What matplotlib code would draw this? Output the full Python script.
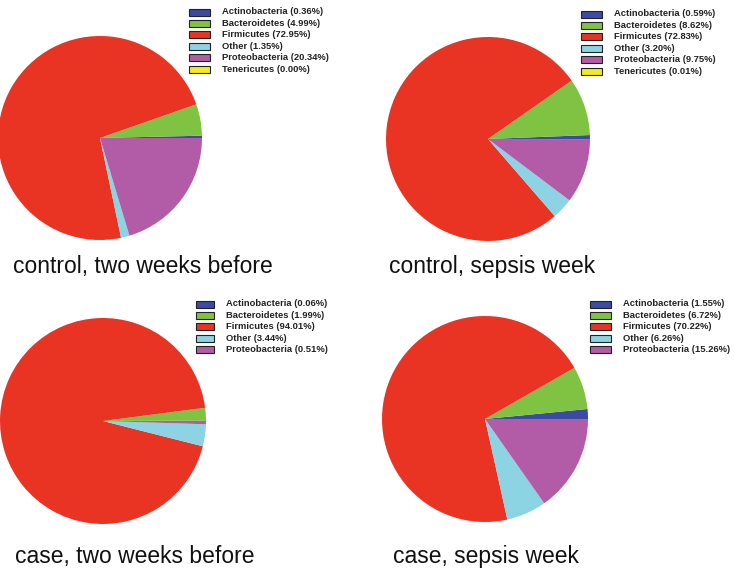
import matplotlib
matplotlib.use("Agg")
import matplotlib.pyplot as plt
from matplotlib.patches import Rectangle

W, H = 734, 581

# ---- data ----
phyla_6 = ["Actinobacteria", "Bacteroidetes", "Firmicutes", "Other", "Proteobacteria", "Tenericutes"]
phyla_5 = ["Actinobacteria", "Bacteroidetes", "Firmicutes", "Other", "Proteobacteria"]

control_two_weeks = [0.36, 4.99, 72.95, 1.35, 20.34, 0.00]
control_sepsis = [0.59, 8.62, 72.83, 3.20, 9.75, 0.01]
case_two_weeks = [0.06, 1.99, 94.01, 3.44, 0.51]
case_sepsis = [1.55, 6.72, 70.22, 6.26, 15.26]

titles = ["control, two weeks before", "control, sepsis week",
          "case, two weeks before", "case, sepsis week"]

colors = ["#3b4ba3", "#80c342", "#e93424", "#8cd4e4", "#b25ca8", "#f4ea1c"]

# ---- layout (pixels) ----
panels = [
    dict(vals=control_two_weeks, names=phyla_6, center=(100, 138), r=102,
         title_xy=(13, 266), leg_patch_x=189, leg_patch_w=21, leg_text_x=222, leg_y0=12),
    dict(vals=control_sepsis, names=phyla_6, center=(488, 139), r=102,
         title_xy=(389, 266), leg_patch_x=581, leg_patch_w=21, leg_text_x=614, leg_y0=14),
    dict(vals=case_two_weeks, names=phyla_5, center=(103, 421), r=103,
         title_xy=(15, 556), leg_patch_x=196, leg_patch_w=18, leg_text_x=226, leg_y0=304),
    dict(vals=case_sepsis, names=phyla_5, center=(485, 419), r=103,
         title_xy=(393, 557), leg_patch_x=590, leg_patch_w=21, leg_text_x=623, leg_y0=304),
]
row_step = 11.45

fig = plt.figure(figsize=(W / 100, H / 100), dpi=100)
ax = fig.add_axes([0, 0, 1, 1])

for p, title in zip(panels, titles):
    cx, cy = p["center"]
    ax.pie(p["vals"], colors=colors[:len(p["vals"])], startangle=0, counterclock=True,
           center=(cx, H - cy), radius=p["r"], frame=True,
           wedgeprops=dict(linewidth=0))
    ax.text(p["title_xy"][0], H - p["title_xy"][1], title, fontsize=16.5,
            family="Liberation Sans", color="#111111", ha="left", va="center")
    for i, (name, v) in enumerate(zip(p["names"], p["vals"])):
        y = H - (p["leg_y0"] + i * row_step)
        ax.add_patch(Rectangle((p["leg_patch_x"], y - 3.5), p["leg_patch_w"], 7,
                               facecolor=colors[i], edgecolor="#222222", linewidth=0.8))
        ax.text(p["leg_text_x"], y, f"{name} ({v:.2f}%)", fontsize=6.75,
                family="Liberation Sans", fontweight="bold", color="#222222",
                ha="left", va="center")

ax.set_xlim(0, W)
ax.set_ylim(0, H)
ax.set_aspect("auto")
ax.axis("off")

fig.savefig("out.png", dpi=100, facecolor="white")
